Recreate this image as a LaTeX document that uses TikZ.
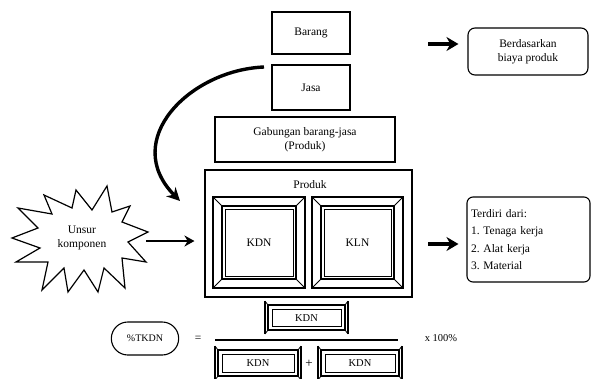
\documentclass[tikz,border=0pt]{standalone}
\usepackage{fontspec}
\setmainfont{Liberation Serif}
\usetikzlibrary{arrows.meta,shapes.misc}
\tikzset{
  box/.style={draw,line width=1.1pt,align=center,inner sep=2pt,font=\fontsize{11.5}{14}\selectfont},
  rbox/.style={box,rounded corners=7pt},
  txt/.style={font=\fontsize{11.5}{14}\selectfont,inner sep=1pt},
  bigarrow/.style={line width=3.6pt,-{Stealth[length=12pt,width=14pt]}},
  midarrow/.style={line width=2.4pt,-{Stealth[length=10pt,width=11pt]}},
  frame/.style={line width=1.2pt},
}
% bevel frame: outer x1 y1 x2 y2, inset d
\newcommand\bevelbox[5]{%
  \draw[frame] (#1,#2) rectangle (#3,#4);
  \draw[frame] ({#1+#5},{#2+#5}) rectangle ({#3-#5},{#4-#5});
  \draw[line width=0.8pt] ({#1+#5+3},{#2+#5+3}) rectangle ({#3-#5-3},{#4-#5-3});
  \draw[line width=0.8pt] (#1,#2) -- ({#1+#5},{#2+#5}) (#3,#2) -- ({#3-#5},{#2+#5})
        (#1,#4) -- ({#1+#5},{#4-#5}) (#3,#4) -- ({#3-#5},{#4-#5});
}
\newcommand\scrollbox[4]{%
  \draw[frame] (#1,{#2+4}) rectangle (#3,{#4-4});
  \draw[line width=0.8pt] ({#1+4},{#2+8}) rectangle ({#3-4},{#4-8});
  \draw[line width=1.4pt] ({#1-3},#2) -- ({#1-3},#4) ({#3+3},#2) -- ({#3+3},#4);
  \draw[line width=0.8pt] ({#1-3},#2) -- (#1,{#2+4}) ({#1-3},#4) -- (#1,{#4-4})
        ({#3+3},#2) -- (#3,{#2+4}) ({#3+3},#4) -- (#3,{#4-4});
}
\begin{document}
\frenchspacing
\begin{tikzpicture}[x=1pt,y=-1pt]
\useasboundingbox[fill=white] (0,0) rectangle (591,378);

\node[box,minimum width=78pt,minimum height=42pt] (barang) at (311,33) {Barang};
\node[box,minimum width=78pt,minimum height=45pt] (jasa) at (311,87.5) {Jasa};
\node[box,minimum width=180pt,minimum height=45pt] (gab) at (305,139.5) {Gabungan barang-jasa\\(Produk)};
\node[box,minimum width=207pt,minimum height=127pt] (produk) at (308.5,233.5) {};
\node[txt] (produklbl) at (310,185) {Produk};

\bevelbox{213}{197}{305}{288}{9}
\node[txt] (kdn) at (259,243) {KDN};
\bevelbox{312}{197}{403}{288}{9}
\node[txt] (kln) at (357.5,243) {KLN};

\node[rbox,minimum width=120pt,minimum height=47pt] (biaya) at (528,51.5) {Berdasarkan\\biaya produk};
\node[rbox,minimum width=123pt,minimum height=85pt,align=left,text width=115pt,rounded corners=6pt,font=\fontsize{11.5}{17.5}\selectfont] (terdiri) at (528.5,239.5) {Terdiri dari:\\1. Tenaga kerja\\2. Alat kerja\\3. Material};

% starburst
\draw[line width=1.2pt,fill=white] (107,186) -- (112,212) -- (130,206) -- (122,222) -- (148,232) -- (128,242)
  -- (146,262) -- (122,258) -- (125,288) -- (104,268) -- (98,292) -- (84,270) -- (68,292) -- (64,268)
  -- (42,290) -- (48,262) -- (16,262) -- (40,248) -- (12,238) -- (38,228) -- (18,208) -- (52,214)
  -- (44,195) -- (72,208) -- (76,190) -- (92,210) -- cycle;
\node[txt,align=center] (unsur) at (82,238) {Unsur\\komponen};
\coordinate (starR) at (146,241);

% arrows
\coordinate (a1s) at (428,44);
\draw[bigarrow] (a1s) -- ([xshift=-9pt]biaya.west |- a1s);
\coordinate (a2s) at (428,244);
\draw[bigarrow] (a2s) -- ([xshift=-8pt]terdiri.west |- a2s);
\draw[midarrow] (starR) -- ([xshift=-10pt]produk.west |- starR);
\coordinate (cstart) at (264,67);
\coordinate (cend) at (180,201);
\draw[line width=3.4pt,-{Stealth[length=13pt,width=13pt]}] (cstart) .. controls (190,70) and (120,140) .. (cend);

% formula
\node[draw,rounded rectangle,line width=1.1pt,minimum width=74pt,minimum height=33pt,font=\fontsize{10}{12}\selectfont] (tkdn) at (145,338.5) {\%TKDN};
\node[txt] (eq) at (198,339) {=};
\scrollbox{268}{301}{345}{334}
\node[txt,font=\fontsize{10.5}{12}\selectfont] (num) at (306.5,318) {KDN};
\draw[line width=1.4pt] (215,340) -- (398,340) coordinate (fracR);
\scrollbox{218}{346}{298}{380}
\node[txt,font=\fontsize{10.5}{12}\selectfont] (den1) at (258,363) {KDN};
\node[txt,font=\fontsize{13}{14}\selectfont] (plus) at (309,364) {+};
\scrollbox{321}{346}{399}{380}
\node[txt,font=\fontsize{10.5}{12}\selectfont] (den2) at (360,363) {KDN};
\node[txt,font=\fontsize{10.5}{12}\selectfont] (times) at (441,338) {x 100\%};
\end{tikzpicture}
\end{document}
